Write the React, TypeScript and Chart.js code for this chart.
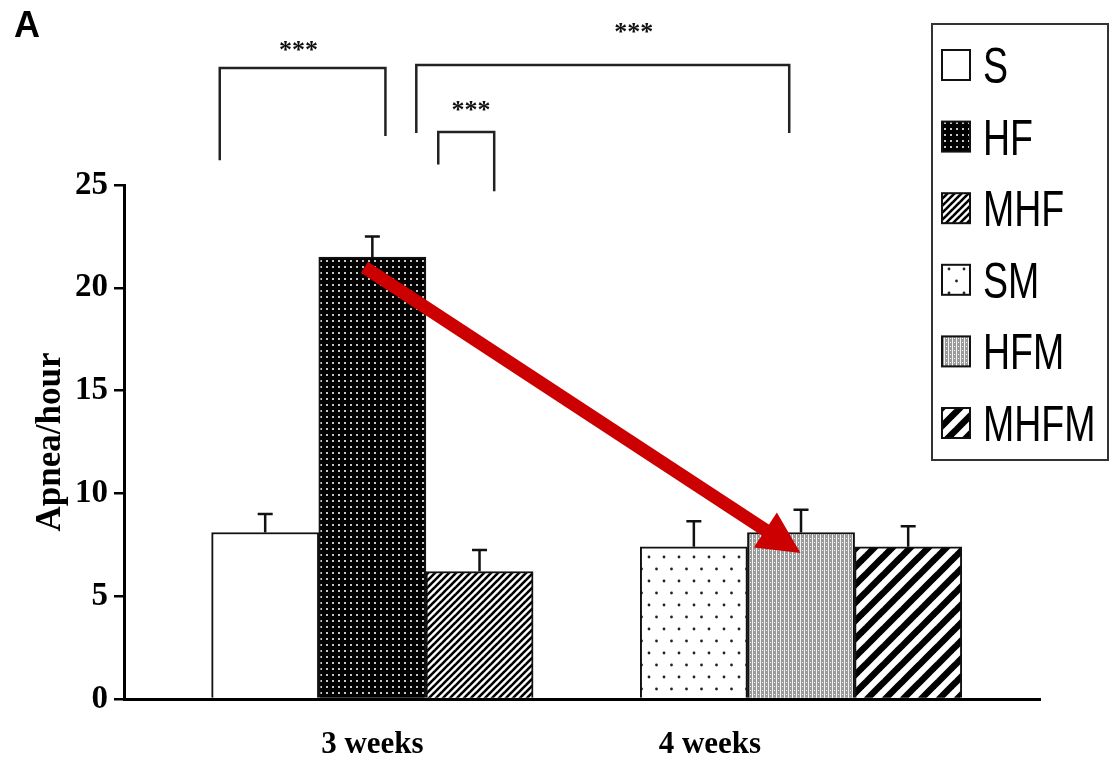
import React, { useEffect, useRef } from 'react';
import { Chart, registerables } from 'chart.js';

Chart.register(...registerables);

// ---- data ----
const groupNames = ['S', 'HF', 'MHF', 'SM', 'HFM', 'MHFM'];
const barSlots = [1, 2, 3, 5, 6, 7];
const apneaMeans = [8.1, 21.5, 6.2, 7.4, 8.1, 7.4];
const apneaSem = [0.9, 1.0, 1.05, 1.25, 1.1, 1.0];
const weekLabels = ['3 weeks', '4 weeks'];
const weekTickSlots = [2, 5.15];
const yTickStep = 5;
const yMax = 25;

// significance brackets (data units)
const brackets = [
  { x1: 0.576, x2: 2.122, top: 30.69, leftEnd: 26.2, rightEnd: 27.38, labelX: 1.31, labelY: 31.8, label: '***' },
  { x1: 2.41, x2: 5.89, top: 30.84, leftEnd: 27.53, rightEnd: 27.53, labelX: 4.44, labelY: 32.7, label: '***' },
  { x1: 2.615, x2: 3.137, top: 27.58, leftEnd: 26.0, rightEnd: 24.7, labelX: 2.92, labelY: 28.9, label: '***' },
];
const arrowFrom = [1.926, 21.0];
const arrowTo = [5.995, 7.1];

const SERIF = "'Liberation Serif', 'Times New Roman', serif";
const SANS = "'Liberation Sans', Arial, sans-serif";

type Drawer = (g: CanvasRenderingContext2D, w: number, h: number) => void;

function makePattern(ctx: CanvasRenderingContext2D, w: number, h: number, draw: Drawer): CanvasPattern {
  const c = document.createElement('canvas');
  c.width = w;
  c.height = h;
  const g = c.getContext('2d') as CanvasRenderingContext2D;
  draw(g, w, h);
  return ctx.createPattern(c, 'repeat') as CanvasPattern;
}

function stripes(s: number, lw: number): Drawer {
  return (g) => {
    g.fillStyle = '#fff';
    g.fillRect(0, 0, s, s);
    g.strokeStyle = '#000';
    g.lineWidth = lw;
    for (const o of [-s, 0, s]) {
      g.beginPath();
      g.moveTo(o - s, 2 * s);
      g.lineTo(o + 2 * s, -s);
      g.stroke();
    }
  };
}

function buildPatterns(ctx: CanvasRenderingContext2D): (string | CanvasPattern)[] {
  const hf = makePattern(ctx, 6, 6, (g) => {
    g.fillStyle = '#000';
    g.fillRect(0, 0, 6, 6);
    g.fillStyle = '#c8c8c8';
    g.fillRect(2, 2, 2, 2);
  });
  const mhf = makePattern(ctx, 7, 7, stripes(7, 2.6));
  const sm = makePattern(ctx, 30, 24, (g) => {
    g.fillStyle = '#fff';
    g.fillRect(0, 0, 30, 24);
    g.fillStyle = '#222';
    const dots = [[4, 5], [19, 5], [11.5, 17], [26.5, 17]];
    for (const [x, y] of dots) {
      g.beginPath();
      g.arc(x, y, 1.4, 0, Math.PI * 2);
      g.fill();
    }
  });
  const hfm = makePattern(ctx, 4, 4, (g) => {
    g.fillStyle = '#9a9a9a';
    g.fillRect(0, 0, 4, 4);
    g.fillStyle = '#f4f4f4';
    g.fillRect(0, 0, 1, 4);
    g.fillRect(2, 2, 1, 1);
  });
  const mhfm = makePattern(ctx, 18, 18, stripes(18, 6.5));
  return ['#ffffff', hf, mhf, sm, hfm, mhfm];
}

const overlayPlugin = {
  id: 'overlay',
  afterDatasetsDraw(chart: any) {
    const { ctx, scales } = chart;
    const xs = scales.x;
    const ys = scales.y;
    ctx.save();
    // error bars (upper only)
    ctx.strokeStyle = '#111';
    ctx.lineWidth = 2.5;
    chart.data.datasets.forEach((ds: any, i: number) => {
      const meta = chart.getDatasetMeta(i);
      const bar = meta.data[0];
      if (!bar) return;
      const x = bar.x;
      const yTop = ys.getPixelForValue(apneaMeans[i] + apneaSem[i]);
      ctx.beginPath();
      ctx.moveTo(x, bar.y);
      ctx.lineTo(x, yTop);
      ctx.moveTo(x - 7.5, yTop);
      ctx.lineTo(x + 7.5, yTop);
      ctx.stroke();
    });
    // red arrow
    const x0 = xs.getPixelForValue(arrowFrom[0]);
    const y0 = ys.getPixelForValue(arrowFrom[1]);
    const x1 = xs.getPixelForValue(arrowTo[0]);
    const y1 = ys.getPixelForValue(arrowTo[1]);
    const dx = x1 - x0;
    const dy = y1 - y0;
    const len = Math.hypot(dx, dy);
    const ux = dx / len;
    const uy = dy / len;
    const nx = -uy;
    const ny = ux;
    const headL = 42;
    const headW = 21;
    ctx.strokeStyle = '#cc0000';
    ctx.fillStyle = '#cc0000';
    ctx.lineWidth = 13;
    ctx.lineCap = 'butt';
    ctx.beginPath();
    ctx.moveTo(x0, y0);
    ctx.lineTo(x1 - ux * headL * 0.85, y1 - uy * headL * 0.85);
    ctx.stroke();
    const bx = x1 - ux * headL;
    const by = y1 - uy * headL;
    ctx.beginPath();
    ctx.moveTo(x1, y1);
    ctx.lineTo(bx + nx * headW, by + ny * headW);
    ctx.lineTo(bx - nx * headW, by - ny * headW);
    ctx.closePath();
    ctx.fill();
    ctx.restore();
  },
  afterDraw(chart: any) {
    const { ctx, scales } = chart;
    const xs = scales.x;
    const ys = scales.y;
    ctx.save();
    // brackets
    ctx.strokeStyle = '#222';
    ctx.lineWidth = 2.5;
    ctx.lineCap = 'butt';
    ctx.fillStyle = '#111';
    ctx.font = `bold 26px ${SERIF}`;
    ctx.textAlign = 'center';
    ctx.textBaseline = 'alphabetic';
    for (const b of brackets) {
      const px1 = xs.getPixelForValue(b.x1);
      const px2 = xs.getPixelForValue(b.x2);
      const pt = ys.getPixelForValue(b.top);
      ctx.beginPath();
      ctx.moveTo(px1, ys.getPixelForValue(b.leftEnd));
      ctx.lineTo(px1, pt);
      ctx.lineTo(px2, pt);
      ctx.lineTo(px2, ys.getPixelForValue(b.rightEnd));
      ctx.stroke();
      ctx.fillText(b.label, xs.getPixelForValue(b.labelX), ys.getPixelForValue(b.labelY) + 13);
    }
    // panel letter
    ctx.textAlign = 'left';
    ctx.font = `bold 36px ${SANS}`;
    ctx.fillStyle = '#000';
    ctx.fillText('A', 14, 37);
    // legend
    const lx = 932;
    const ly = 24;
    const lw = 176;
    const lh = 436;
    ctx.strokeStyle = '#333';
    ctx.lineWidth = 2;
    ctx.strokeRect(lx, ly, lw, lh);
    const rowStart = 65;
    const rowStep = 71.6;
    chart.data.datasets.forEach((ds: any, i: number) => {
      const cy = rowStart + i * rowStep;
      ctx.fillStyle = ds.backgroundColor;
      ctx.fillRect(942, cy - 15, 28, 30);
      ctx.strokeStyle = '#111';
      ctx.lineWidth = 2;
      ctx.strokeRect(942, cy - 15, 28, 30);
      ctx.save();
      ctx.translate(983, cy + 18);
      ctx.scale(0.75, 1);
      ctx.fillStyle = '#000';
      ctx.font = `50px ${SANS}`;
      ctx.textAlign = 'left';
      ctx.fillText(ds.label, 0, 0);
      ctx.restore();
    });
    ctx.restore();
  },
};

export default function App() {
  const canvasRef = useRef<HTMLCanvasElement | null>(null);

  useEffect(() => {
    document.body.style.margin = '0';
    const canvas = canvasRef.current;
    if (!canvas) return;
    const ctx = canvas.getContext('2d') as CanvasRenderingContext2D;
    const fills = buildPatterns(ctx);
    const datasets = groupNames.map((name, i) => ({
      label: name,
      data: [{ x: barSlots[i], y: apneaMeans[i] }],
      backgroundColor: fills[i],
      borderColor: '#111',
      borderWidth: 2,
      grouped: false,
      categoryPercentage: 1,
      barPercentage: 1,
    }));
    const chart = new Chart(ctx, {
      type: 'bar',
      data: { datasets },
      options: {
        animation: false,
        responsive: false,
        devicePixelRatio: 1,
        layout: { padding: { top: 185, right: 75, left: 0, bottom: 0 } },
        plugins: { legend: { display: false }, tooltip: { enabled: false } },
        scales: {
          x: {
            type: 'linear',
            offset: false,
            min: -0.3175,
            max: 8.23,
            grid: { display: false, drawTicks: false, offset: false },
            border: { display: true, color: '#000', width: 3 },
            afterBuildTicks: (s: any) => {
              s.ticks = weekTickSlots.map((v) => ({ value: v }));
            },
            afterFit: (s: any) => {
              s.height = 73;
            },
            ticks: {
              autoSkip: false,
              maxRotation: 0,
              padding: 27,
              color: '#000',
              font: { family: SERIF, size: 31, weight: 'bold' },
              callback: (_v: any, i: number) => weekLabels[i] ?? '',
            },
          },
          y: {
            min: 0,
            max: yMax,
            grid: { drawOnChartArea: false, drawTicks: true, tickLength: 10, color: '#000', lineWidth: 2.5 },
            border: { display: true, color: '#000', width: 3 },
            afterFit: (s: any) => {
              s.width = 124;
            },
            ticks: {
              stepSize: yTickStep,
              padding: 6,
              color: '#000',
              font: { family: SERIF, size: 33, weight: 'bold' },
            },
            title: {
              display: true,
              text: 'Apnea/hour',
              color: '#000',
              font: { family: SERIF, size: 35, weight: 'bold' },
              padding: { top: 30, bottom: 0 },
            },
          },
        },
      },
      plugins: [overlayPlugin],
    } as any);
    return () => chart.destroy();
  }, []);

  return (
    <div style={{ position: 'absolute', left: 0, top: 0, width: 1115, height: 772, background: '#fff' }}>
      <canvas ref={canvasRef} width={1115} height={772} style={{ display: 'block', width: 1115, height: 772 }} />
    </div>
  );
}
